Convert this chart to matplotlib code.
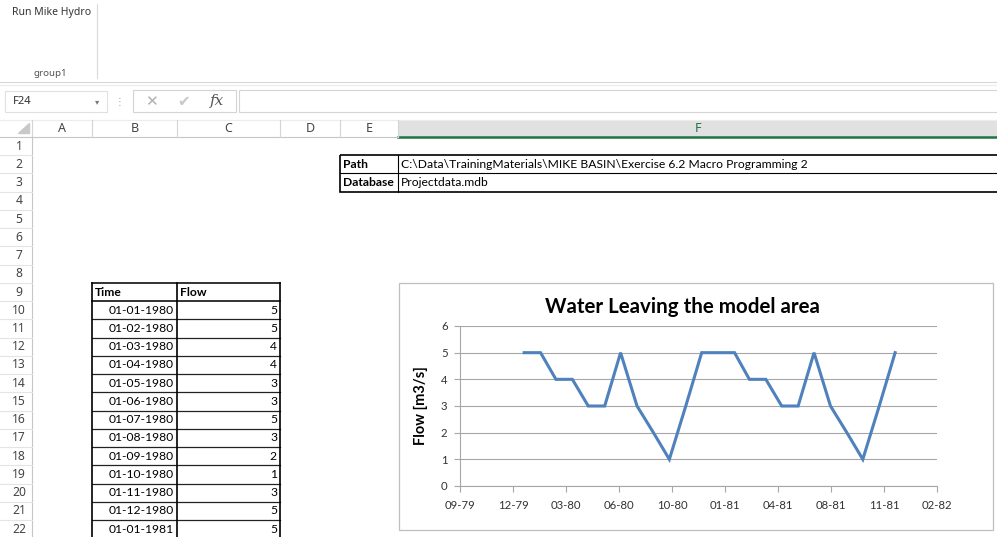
import datetime as dt
import matplotlib
matplotlib.use("Agg")
import matplotlib.pyplot as plt
from matplotlib.patches import Rectangle

# sheet data
path_value = r"C:\Data\TrainingMaterials\MIKE BASIN\Exercise 6.2 Macro Programming 2"
database_value = "Projectdata.mdb"

times = ["01-01-1980", "01-02-1980", "01-03-1980", "01-04-1980", "01-05-1980", "01-06-1980",
         "01-07-1980", "01-08-1980", "01-09-1980", "01-10-1980", "01-11-1980", "01-12-1980",
         "01-01-1981", "01-02-1981", "01-03-1981", "01-04-1981", "01-05-1981", "01-06-1981",
         "01-07-1981", "01-08-1981", "01-09-1981", "01-10-1981", "01-11-1981", "01-12-1981"]
flow = [5, 5, 4, 4, 3, 3, 5, 3, 2, 1, 3, 5,
        5, 5, 4, 4, 3, 3, 5, 3, 2, 1, 3, 5]

# excel date axis: serial numbers of the major ticks (100 day unit)
tick_serials = [29100, 29200, 29300, 29400, 29500, 29600, 29700, 29800, 29900, 30000]
tick_labels = ["09-79", "12-79", "03-80", "06-80", "10-80", "01-81", "04-81", "08-81", "11-81", "02-82"]

col_letters = ["A", "B", "C", "D", "E", "F"]
col_edges = [32, 92, 177, 280, 340, 398, 997]

CELL_FONT = ["Lato", "DejaVu Sans"]
UI_FONT = ["Noto Sans", "DejaVu Sans"]
GRID = "#d4d4d4"
CELL_SIZE = 8.7


def row_top(r):
    return 137 + (r - 1) * 18.24


def row_mid(r):
    return row_top(r) + 9.12


fig = plt.figure(figsize=(9.97, 5.37), dpi=100)
bg = fig.add_axes([0, 0, 1, 1])
bg.set_xlim(0, 997)
bg.set_ylim(537, 0)
bg.axis("off")

# ribbon
bg.text(12, 12, "Run Mike Hydro", fontsize=7.5, family=UI_FONT, color="#333333", va="center")
bg.text(50, 74, "group1", fontsize=7, family=UI_FONT, color="#555555", va="center", ha="center")
bg.plot([97, 97], [4, 78], color="#dadada", lw=0.8)
bg.plot([0, 997], [82, 82], color="#d8d8d8", lw=0.8)
bg.plot([0, 997], [84.5, 84.5], color="#ececec", lw=0.8)

# formula bar
bg.add_patch(Rectangle((5, 91), 102, 21, fc="white", ec="#e0e0e0", lw=0.8))
bg.text(13, 101.5, "F24", fontsize=8, family=UI_FONT, color="#333333", va="center")
bg.text(97, 101.5, "\u25be", fontsize=6, color="#777777", va="center", ha="center")
bg.text(119, 101.5, "\u22ee", fontsize=7, color="#aaaaaa", va="center", ha="center")
bg.add_patch(Rectangle((133, 90), 103, 22, fc="white", ec="#d4d4d4", lw=0.8))
bg.text(151, 101.5, "\u2715", fontsize=11, color="#b0b0b0", va="center", ha="center")
bg.text(184, 101.5, "\u2714", fontsize=11, color="#c8c8c8", va="center", ha="center")
bg.text(217, 100.5, "fx", fontsize=11, family="DejaVu Serif", style="italic",
        color="#555555", va="center", ha="center")
bg.add_patch(Rectangle((239, 90), 760, 22, fc="white", ec="#d4d4d4", lw=0.8))

# column headers
bg.add_patch(Rectangle((398, 120), 599, 17, fc="#e1e1e1", ec="none"))
bg.plot([398, 997], [136.5, 136.5], color="#217346", lw=1.8)
bg.plot([0, 398], [137, 137], color="#c6c6c6", lw=0.8)
bg.plot([0, 997], [119.5, 119.5], color="#ececec", lw=0.8)
bg.fill([18, 29, 29], [133, 133, 123], color="#c9c9c9")
for i, letter in enumerate(col_letters):
    cx = (col_edges[i] + col_edges[i + 1]) / 2
    if letter == "F":
        bg.text(cx, 128.5, letter, fontsize=9, family=UI_FONT, color="#217346",
                weight="bold", ha="center", va="center")
    else:
        bg.text(cx, 128.5, letter, fontsize=9, family=UI_FONT, color="#444444",
                ha="center", va="center")
for x in col_edges[:-1]:
    bg.plot([x, x], [120, 137], color=GRID, lw=0.8)

# row headers
bg.plot([32, 32], [137, 537], color="#c6c6c6", lw=0.8)
for r in range(1, 23):
    bg.text(19, row_mid(r), str(r), fontsize=8.7, family=UI_FONT, color="#444444",
            ha="center", va="center")
    bg.plot([0, 32], [row_top(r + 1), row_top(r + 1)], color="#e4e4e4", lw=0.8)

# path / database table
bg.add_patch(Rectangle((340, row_top(2)), 700, 2 * 18.24, fc="none", ec="black", lw=1.2))
bg.plot([340, 997], [row_top(3), row_top(3)], color="black", lw=0.8)
bg.plot([398, 398], [row_top(2), row_top(4)], color="black", lw=0.8)
bg.text(343, row_mid(2), "Path", fontsize=CELL_SIZE, family=CELL_FONT, weight="bold", va="center")
bg.text(343, row_mid(3), "Database", fontsize=CELL_SIZE, family=CELL_FONT, weight="bold", va="center")
bg.text(401, row_mid(2), path_value, fontsize=CELL_SIZE, family=CELL_FONT, va="center")
bg.text(401, row_mid(3), database_value, fontsize=CELL_SIZE, family=CELL_FONT, va="center")

# time / flow table
n_rows = 13
bg.text(95, row_mid(9), "Time", fontsize=CELL_SIZE, family=CELL_FONT, weight="bold", va="center")
bg.text(180, row_mid(9), "Flow", fontsize=CELL_SIZE, family=CELL_FONT, weight="bold", va="center")
for k in range(n_rows):
    r = 10 + k
    bg.text(174, row_mid(r), times[k], fontsize=CELL_SIZE, family=CELL_FONT, va="center", ha="right")
    bg.text(277, row_mid(r), str(flow[k]), fontsize=CELL_SIZE, family=CELL_FONT, va="center", ha="right")
for r in range(9, 10 + n_rows + 1):
    bg.plot([92, 280], [row_top(r), row_top(r)], color="#222222",
            lw=1.3 if r in (9, 10) else 0.9)
for x in (92, 177, 280):
    bg.plot([x, x], [row_top(9), 537], color="black", lw=1.2)

# chart frame
bg.add_patch(Rectangle((398.5, 283), 594, 247, fc="white", ec="#bfbfbf", lw=0.9))
bg.text(682, 307, "Water Leaving the model area", fontsize=14.8, family=CELL_FONT,
        weight="bold", ha="center", va="center")

# chart plot area
ax = fig.add_axes([460 / 997, 1 - 486 / 537, (937 - 460) / 997, (486 - 326) / 537])
base = dt.datetime(1899, 12, 30)
dates = [dt.datetime.strptime(t, "%d-%m-%Y") for t in times]
tick_dates = [base + dt.timedelta(days=s) for s in tick_serials]

ax.plot(dates, flow, color="#4f81bd", lw=2.2, solid_joinstyle="miter")
ax.set_xlim(tick_dates[0], tick_dates[-1])
ax.set_ylim(0, 6)
ax.set_xticks(tick_dates)
ax.set_xticklabels(tick_labels)
ax.set_yticks(range(0, 7))
ax.grid(axis="y", color="#a6a6a6", lw=0.8)
ax.set_axisbelow(True)
for s in ("top", "right"):
    ax.spines[s].set_visible(False)
for s in ("left", "bottom"):
    ax.spines[s].set_color("#a6a6a6")
    ax.spines[s].set_linewidth(0.8)
ax.tick_params(axis="both", colors="#a6a6a6", labelcolor="#333333", labelsize=8.2,
               length=4, width=0.8)
ax.tick_params(axis="x", pad=6)
ax.tick_params(axis="y", pad=5)
for lab in ax.get_xticklabels() + ax.get_yticklabels():
    lab.set_family(CELL_FONT)
ax.set_ylabel("Flow [m3/s]", fontsize=10.5, family=CELL_FONT, weight="bold", labelpad=9)
ax.patch.set_alpha(0)

fig.savefig("out.png", dpi=100)
